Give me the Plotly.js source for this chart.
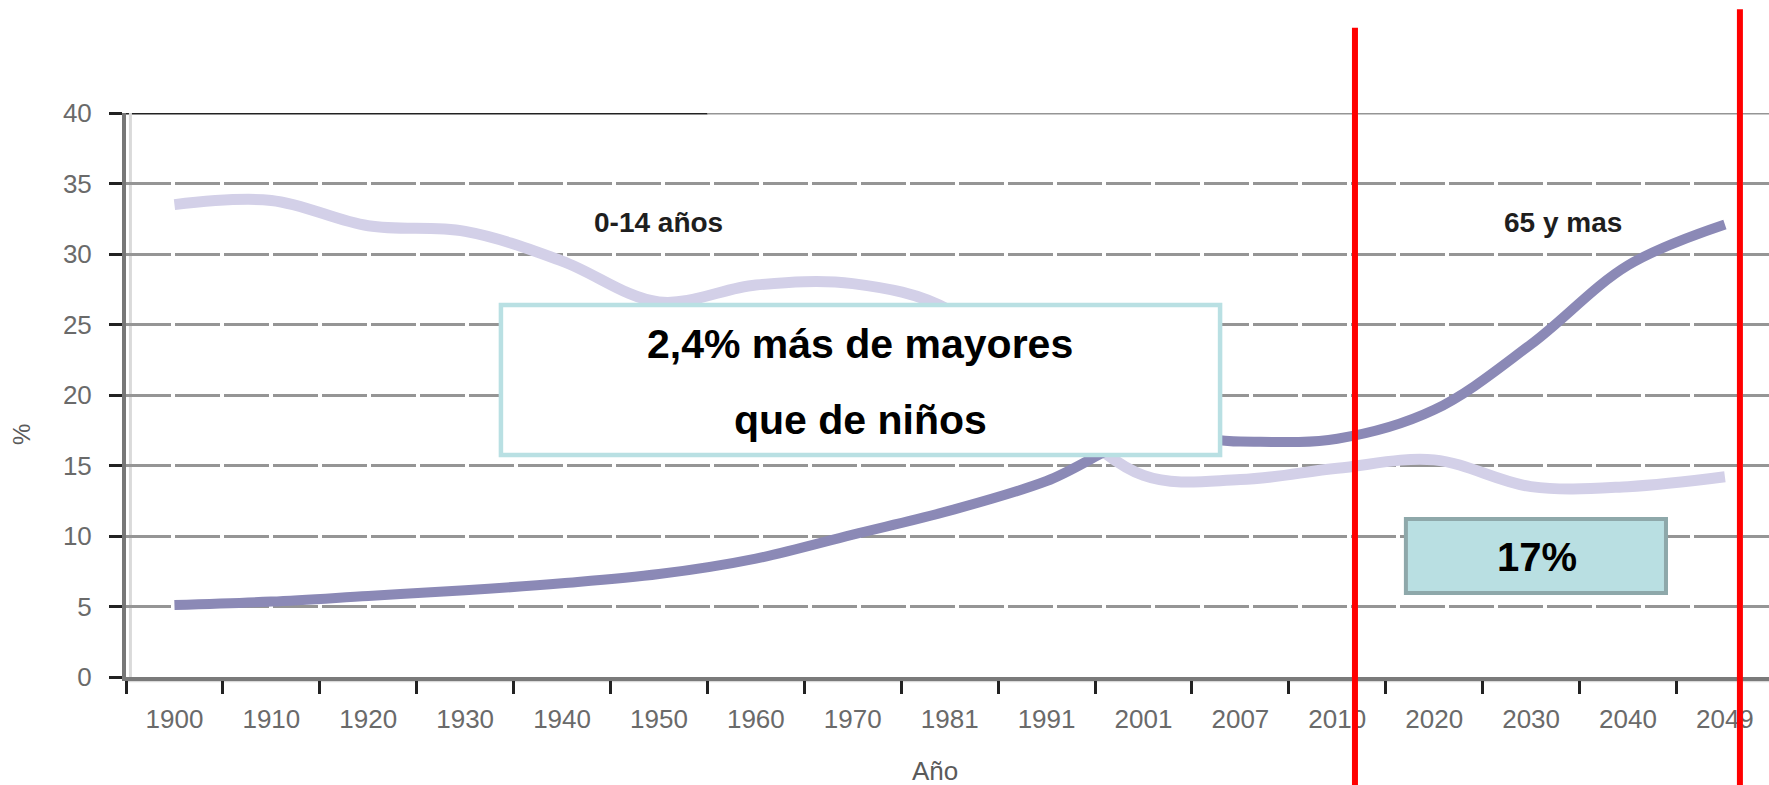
<!DOCTYPE html>
<html>
<head>
<meta charset="utf-8">
<script src="https://cdn.plot.ly/plotly-3.0.1.min.js"></script>
<style>
  html, body { margin: 0; padding: 0; background: #ffffff; overflow: hidden; }
  #chart { width: 1769px; height: 785px; }
</style>
</head>
<body>
<div id="chart"></div>
<script>
// Categories (years) as tick labels
const years = ['1900','1910','1920','1930','1940','1950','1960','1970','1981','1991','2001','2007','2010','2020','2030','2040','2049'];
// % population aged 0-14
const ninos = [33.5, 33.8, 32.0, 31.6, 29.5, 26.6, 27.8, 27.9, 26.0, 19.5, 14.3, 14.0, 14.8, 15.4, 13.5, 13.5, 14.2];
// % population aged 65 and over
const mayores = [5.1, 5.35, 5.75, 6.15, 6.65, 7.3, 8.4, 10.1, 11.8, 13.9, 17.0, 16.7, 16.9, 18.95, 23.6, 29.2, 32.1];
const yTicks = [0, 5, 10, 15, 20, 25, 30, 35, 40];

const FONT = '"Liberation Sans", Arial, sans-serif';

const traces = [
  {
    x: years, y: ninos, type: 'scatter', mode: 'lines', name: '0-14 años',
    line: { color: '#d3d0e8', width: 11, shape: 'spline', smoothing: 1 },
    hoverinfo: 'x+y'
  },
  {
    x: years, y: mayores, type: 'scatter', mode: 'lines', name: '65 y mas',
    line: { color: '#8b89b6', width: 10, shape: 'spline', smoothing: 1 },
    hoverinfo: 'x+y'
  }
];

const layout = {
  width: 1769, height: 785,
  margin: { l: 126, r: 0, t: 113, b: 108, pad: 0 },
  paper_bgcolor: '#ffffff', plot_bgcolor: '#ffffff',
  showlegend: false,
  font: { family: FONT, color: '#5a5a5a' },
  xaxis: {
    type: 'category',
    range: [-0.5, 16.455],
    tickson: 'boundaries',
    ticks: 'outside', ticklen: 13, tickwidth: 3, tickcolor: '#222222',
    showgrid: false, zeroline: false,
    showline: true, linecolor: '#7a7a7a', linewidth: 4,
    tickfont: { family: FONT, size: 26, color: '#6a6a6a' },
    ticklabelstandoff: 16,
    automargin: false, fixedrange: true
  },
  yaxis: {
    range: [0, 40],
    tickvals: yTicks,
    ticktext: yTicks.map(String),
    ticks: 'outside', ticklen: 13, tickwidth: 3, tickcolor: '#222222',
    showgrid: true, gridcolor: '#959595', gridwidth: 3, griddash: '45px,4px',
    zeroline: false,
    showline: true, linecolor: '#777777', linewidth: 4,
    tickfont: { family: FONT, size: 26, color: '#6a6a6a' },
    ticklabelstandoff: 12,
    automargin: false, fixedrange: true
  },
  shapes: [
    // top gridline: dark segment then solid grey
    { type: 'line', xref: 'paper', yref: 'y', x0: 0, x1: 0.354, y0: 40, y1: 40, line: { color: '#222222', width: 3 }, layer: 'below' },
    { type: 'line', xref: 'paper', yref: 'y', x0: 0.354, x1: 1, y0: 40, y1: 40, line: { color: '#959595', width: 3 }, layer: 'below' },
    // light shadows of axes
    { type: 'line', xref: 'paper', yref: 'paper', x0: 0.0027, x1: 0.0027, y0: 0, y1: 1, line: { color: '#dadada', width: 3 }, layer: 'below' },
    { type: 'line', xref: 'paper', yref: 'paper', x0: 0, x1: 1, y0: -0.0065, y1: -0.0065, line: { color: '#dadada', width: 3 }, layer: 'below' },
    // annotation box 1
    { type: 'rect', xref: 'paper', yref: 'paper', x0: 0.2282, x1: 0.6659, y0: 0.3936, y1: 0.6596,
      fillcolor: '#ffffff', line: { color: '#b9e0e3', width: 4.5 }, layer: 'above' },
    // annotation box 2
    { type: 'rect', xref: 'paper', yref: 'paper', x0: 0.779, x1: 0.9373, y0: 0.1489, y1: 0.2801,
      fillcolor: '#b9dfe2', line: { color: '#8ea8aa', width: 4 }, layer: 'above' },
    // red vertical markers
    { type: 'line', xref: 'paper', yref: 'paper', x0: 0.748, x1: 0.748, y0: -0.2, y1: 1.151,
      line: { color: '#ff0000', width: 6 }, layer: 'above' },
    { type: 'line', xref: 'paper', yref: 'paper', x0: 0.9823, x1: 0.9823, y0: -0.2, y1: 1.184,
      line: { color: '#ff0000', width: 6 }, layer: 'above' }
  ],
  annotations: [
    { xref: 'paper', yref: 'paper', x: 0.3238, y: 0.805, text: '0-14 años', showarrow: false,
      font: { family: FONT, size: 28, color: '#1e1e1e', weight: 'bold' }, xanchor: 'center', yanchor: 'middle' },
    { xref: 'paper', yref: 'paper', x: 0.8746, y: 0.805, text: '65 y mas', showarrow: false,
      font: { family: FONT, size: 28, color: '#1e1e1e', weight: 'bold' }, xanchor: 'center', yanchor: 'middle' },
    { xref: 'paper', yref: 'paper', x: 0.447, y: 0.5904, text: '<b>2,4% más de mayores</b>', showarrow: false,
      font: { family: FONT, size: 41, color: '#000000' }, xanchor: 'center', yanchor: 'middle' },
    { xref: 'paper', yref: 'paper', x: 0.447, y: 0.4557, text: '<b>que de niños</b>', showarrow: false,
      font: { family: FONT, size: 41, color: '#000000' }, xanchor: 'center', yanchor: 'middle' },
    { xref: 'paper', yref: 'paper', x: 0.8588, y: 0.2128, text: '<b>17%</b>', showarrow: false,
      font: { family: FONT, size: 40, color: '#000000' }, xanchor: 'center', yanchor: 'middle' },
    { xref: 'paper', yref: 'paper', x: -0.0633, y: 0.431, text: '%', showarrow: false, textangle: -90,
      font: { family: FONT, size: 24, color: '#5a5a5a' }, xanchor: 'center', yanchor: 'middle' },
    { xref: 'paper', yref: 'paper', x: 0.4924, y: -0.167, text: 'Año', showarrow: false,
      font: { family: FONT, size: 26, color: '#5a5a5a' }, xanchor: 'center', yanchor: 'middle' }
  ]
};

Plotly.newPlot('chart', traces, layout, { staticPlot: true, displayModeBar: false });
</script>
</body>
</html>
